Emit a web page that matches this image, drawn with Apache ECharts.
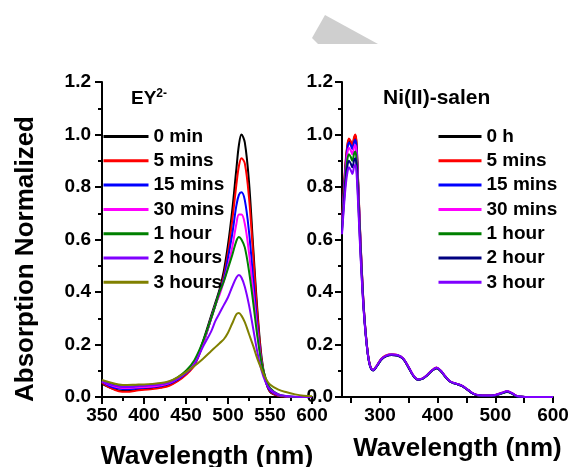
<!DOCTYPE html>
<html><head><meta charset="utf-8">
<script src="https://cdn.jsdelivr.net/npm/echarts@6/dist/echarts.min.js"></script>
<style>html,body{margin:0;padding:0;background:#fff}#c{width:571px;height:467px}</style>
</head><body><div id="c"></div>
<script>
// ---- Left panel: EY2- ----
const eyWavelengths = [350,360,370,380,390,400,410,420,430,440,450,460,470,480,485,490,495,500,505,510,513,516,520,525,530,535,540,545,550,560,570,580,590,600];
const eyNames = ['0 min','5 mins','15 mins','30 mins','1 hour','2 hours','3 hours'];
const eyColors = ['#000000','#ff0000','#0000ff','#ff00ff','#008000','#8000ff','#808000'];
const ey0min  = [0.05,0.035,0.025,0.024,0.027,0.03,0.033,0.037,0.045,0.062,0.088,0.125,0.21,0.31,0.36,0.41,0.48,0.58,0.71,0.87,0.96,1.0,0.97,0.82,0.57,0.33,0.15,0.06,0.02,0.004,0,0,0,0];
const ey5min  = [0.055,0.035,0.022,0.02,0.024,0.028,0.03,0.035,0.043,0.06,0.085,0.12,0.2,0.3,0.35,0.4,0.46,0.55,0.67,0.81,0.88,0.91,0.89,0.76,0.54,0.31,0.14,0.06,0.022,0.005,0.001,0,0,0];
const ey15min = [0.058,0.04,0.032,0.03,0.032,0.035,0.038,0.042,0.05,0.066,0.09,0.125,0.2,0.3,0.35,0.4,0.45,0.53,0.62,0.73,0.77,0.78,0.75,0.63,0.45,0.27,0.13,0.06,0.025,0.006,0.002,0,0,0];
const ey30min = [0.06,0.045,0.036,0.034,0.036,0.038,0.04,0.045,0.053,0.07,0.094,0.13,0.2,0.3,0.35,0.39,0.44,0.5,0.57,0.66,0.695,0.695,0.66,0.55,0.4,0.25,0.13,0.065,0.03,0.008,0.002,0,0,0];
const ey1h    = [0.062,0.05,0.042,0.04,0.042,0.045,0.047,0.05,0.058,0.075,0.1,0.14,0.21,0.3,0.35,0.4,0.44,0.49,0.54,0.595,0.61,0.6,0.57,0.48,0.36,0.23,0.13,0.07,0.035,0.01,0.003,0,0,0];
const ey2h    = [0.06,0.047,0.04,0.038,0.04,0.043,0.045,0.048,0.055,0.07,0.092,0.125,0.19,0.25,0.29,0.32,0.35,0.38,0.42,0.455,0.465,0.455,0.42,0.35,0.26,0.17,0.1,0.055,0.03,0.01,0.004,0.001,0,0];
const ey3h    = [0.065,0.055,0.048,0.046,0.047,0.048,0.05,0.053,0.06,0.075,0.095,0.118,0.145,0.175,0.19,0.205,0.22,0.245,0.28,0.315,0.32,0.31,0.285,0.24,0.195,0.145,0.105,0.07,0.048,0.028,0.018,0.01,0.005,0.003];
const eySeries = [ey0min, ey5min, ey15min, ey30min, ey1h, ey2h, ey3h];

// ---- Right panel: Ni(II)-salen ----
const niWavelengths = [234,237,240,243,246,249,252,255,257,259,262,265,268,272,277,282,288,295,302,310,320,330,340,350,358,366,374,382,390,398,405,413,422,432,442,452,462,472,485,500,512,520,528,536,545,560,580,600];
const niNames = ['0 h','5 mins','15 mins','30 mins','1 hour','2 hour','3 hour'];
const niColors = ['#000000','#ff0000','#0000ff','#ff00ff','#008000','#000080','#8000ff'];
const ni0h    = [0.66,0.78,0.88,0.95,0.98,0.97,0.955,0.985,0.995,0.97,0.82,0.65,0.50,0.33,0.20,0.125,0.102,0.12,0.142,0.155,0.16,0.158,0.145,0.11,0.08,0.066,0.07,0.083,0.10,0.11,0.10,0.078,0.058,0.05,0.042,0.027,0.012,0.006,0.005,0.007,0.015,0.021,0.015,0.004,0.001,0,0,0];
const ni5min  = [0.67,0.79,0.89,0.955,0.985,0.975,0.96,0.99,1.0,0.975,0.825,0.655,0.505,0.335,0.203,0.127,0.104,0.122,0.145,0.158,0.163,0.16,0.147,0.112,0.081,0.067,0.071,0.085,0.102,0.112,0.101,0.079,0.059,0.051,0.043,0.028,0.013,0.007,0.006,0.008,0.016,0.022,0.016,0.005,0.001,0,0,0];
const ni15min = [0.655,0.77,0.87,0.94,0.97,0.96,0.945,0.972,0.98,0.955,0.81,0.645,0.495,0.332,0.2,0.124,0.102,0.12,0.143,0.156,0.161,0.159,0.146,0.111,0.08,0.066,0.07,0.084,0.101,0.111,0.1,0.078,0.058,0.05,0.042,0.027,0.012,0.006,0.005,0.007,0.015,0.021,0.015,0.004,0.001,0,0,0];
const ni30min = [0.65,0.76,0.855,0.925,0.95,0.94,0.925,0.952,0.96,0.935,0.795,0.635,0.49,0.33,0.2,0.125,0.103,0.121,0.144,0.157,0.162,0.16,0.147,0.112,0.081,0.067,0.071,0.084,0.101,0.111,0.1,0.079,0.059,0.05,0.042,0.027,0.012,0.006,0.006,0.008,0.016,0.022,0.016,0.005,0.001,0,0,0];
const ni1h    = [0.64,0.745,0.835,0.9,0.925,0.915,0.9,0.927,0.935,0.91,0.775,0.62,0.48,0.325,0.198,0.124,0.102,0.12,0.143,0.156,0.161,0.159,0.146,0.111,0.08,0.066,0.07,0.083,0.1,0.11,0.099,0.078,0.058,0.05,0.042,0.027,0.012,0.006,0.005,0.007,0.014,0.019,0.014,0.004,0.001,0,0,0];
const ni2h    = [0.63,0.73,0.815,0.875,0.9,0.89,0.875,0.902,0.91,0.885,0.755,0.605,0.47,0.32,0.196,0.123,0.101,0.119,0.142,0.155,0.16,0.158,0.145,0.11,0.08,0.066,0.07,0.083,0.1,0.11,0.1,0.078,0.058,0.05,0.042,0.027,0.012,0.006,0.005,0.007,0.015,0.02,0.015,0.004,0.001,0,0,0];
const ni3h    = [0.62,0.715,0.795,0.85,0.875,0.865,0.85,0.877,0.885,0.86,0.735,0.59,0.46,0.318,0.196,0.124,0.103,0.121,0.144,0.157,0.162,0.16,0.147,0.112,0.081,0.067,0.071,0.084,0.101,0.111,0.101,0.079,0.059,0.051,0.043,0.028,0.013,0.007,0.006,0.008,0.016,0.022,0.016,0.005,0.001,0,0,0];
const niSeries = [ni0h, ni5min, ni15min, ni30min, ni1h, ni2h, ni3h];

// ---- Axis ticks ----
const leftXLabels = [350,400,450,500,550,600];
const rightXLabels = [300,400,500,600];
const rightXTicks = [250,300,350,400,450,500,550,600];

const FONT = "'Liberation Sans', Arial, sans-serif";
const chart = echarts.init(document.getElementById('c'), null, {renderer:'canvas'});

const tickStyle = {color:'#000', width:2};
function yAxisCfg(gridIndex, margin){
  return {
    type:'value', gridIndex, min:0, max:1.2, interval:0.2,
    axisLine:{show:true, lineStyle:{color:'#000', width:2}},
    axisTick:{show:true, inside:false, length:7, lineStyle:tickStyle},
    minorTick:{show:true, splitNumber:2, length:4, lineStyle:tickStyle},
    splitLine:{show:false},
    axisLabel:{margin, color:'#000', fontFamily:FONT, fontWeight:'bold', fontSize:19,
      formatter:v=>v.toFixed(1)}
  };
}

const series = [];
eySeries.forEach((vals, i) => {
  series.push({
    type:'line', name:eyNames[i], xAxisIndex:0, yAxisIndex:0,
    data: eyWavelengths.map((w,k)=>[w, vals[k]]),
    symbol:'none', smooth:0.35, color:eyColors[i],
    lineStyle:{width:2, color:eyColors[i]}
  });
});
niSeries.forEach((vals, i) => {
  series.push({
    type:'line', name:niNames[i], xAxisIndex:1, yAxisIndex:1,
    data: niWavelengths.map((w,k)=>[w, vals[k]]),
    symbol:'none', smooth:0.35, color:niColors[i],
    lineStyle:{width:2, color:niColors[i]}
  });
});

const legendText = {color:'#000', fontFamily:FONT, fontWeight:'bold', fontSize:19, lineHeight:19};
const legendCommon = {orient:'vertical', top:127, padding:0, itemHeight:14, itemGap:5.3,
  textStyle:legendText, itemStyle:{opacity:0}, lineStyle:{width:3, opacity:1}, selectedMode:false};

chart.setOption({
  animation:false,
  backgroundColor:'#ffffff',
  title:[
    {text:'{a|EY}{b|2-}', left:131, top:88, padding:0,
      textStyle:{rich:{
        a:{fontFamily:FONT, fontWeight:'bold', fontSize:19, color:'#000', lineHeight:22},
        b:{fontFamily:FONT, fontWeight:'bold', fontSize:12, color:'#000', verticalAlign:'top', lineHeight:22, padding:[0,0,10,0]}
      }}},
    {text:'Ni(II)-salen', left:383, top:88, padding:0,
      textStyle:{fontFamily:FONT, fontWeight:'bold', fontSize:21, color:'#000'}}
  ],
  graphic:[
    {type:'polygon', silent:true, shape:{points:[[325,15],[312,38],[318,44],[378,44]]}, style:{fill:'#cfcfcf'}},
    {type:'text', x:26, y:259, rotation:Math.PI/2, silent:true,
      style:{text:'Absorption Normalized', fill:'#000', font:"bold 26px 'Liberation Sans', Arial, sans-serif", textAlign:'center', textVerticalAlign:'middle'}}
  ],
  legend:[
    Object.assign({data:eyNames, left:102, itemWidth:45}, legendCommon),
    Object.assign({data:niNames, left:437, itemWidth:43}, legendCommon)
  ],
  grid:[
    {left:102, top:82, width:210, height:315, containLabel:false, outerBoundsMode:'none'},
    {left:342, top:82, width:211, height:315, containLabel:false, outerBoundsMode:'none'}
  ],
  xAxis:[
    {type:'value', gridIndex:0, min:350, max:600, interval:50,
      name:'Wavelength (nm)', nameLocation:'middle', nameGap:46,
      nameTextStyle:{color:'#000', fontFamily:FONT, fontWeight:'bold', fontSize:26.5},
      axisLine:{show:true, onZero:false, lineStyle:{color:'#000', width:2}},
      axisTick:{show:true, inside:false, length:7, lineStyle:tickStyle},
      minorTick:{show:true, splitNumber:2, length:4, lineStyle:tickStyle},
      splitLine:{show:false},
      axisLabel:{margin:9, color:'#000', fontFamily:FONT, fontWeight:'bold', fontSize:19, customValues:leftXLabels}},
    {type:'value', gridIndex:1, min:234, max:600,
      name:'Wavelength (nm)', nameLocation:'middle', nameGap:39,
      nameTextStyle:{color:'#000', fontFamily:FONT, fontWeight:'bold', fontSize:26, padding:[0,0,0,20]},
      axisLine:{show:true, onZero:false, lineStyle:{color:'#000', width:2}},
      axisTick:{show:true, inside:false, length:6, lineStyle:tickStyle, customValues:rightXTicks},
      splitLine:{show:false},
      axisLabel:{margin:9, color:'#000', fontFamily:FONT, fontWeight:'bold', fontSize:19, customValues:rightXLabels}}
  ],
  yAxis:[ yAxisCfg(0, 11), yAxisCfg(1, 9) ],
  series
});
</script></body></html>
